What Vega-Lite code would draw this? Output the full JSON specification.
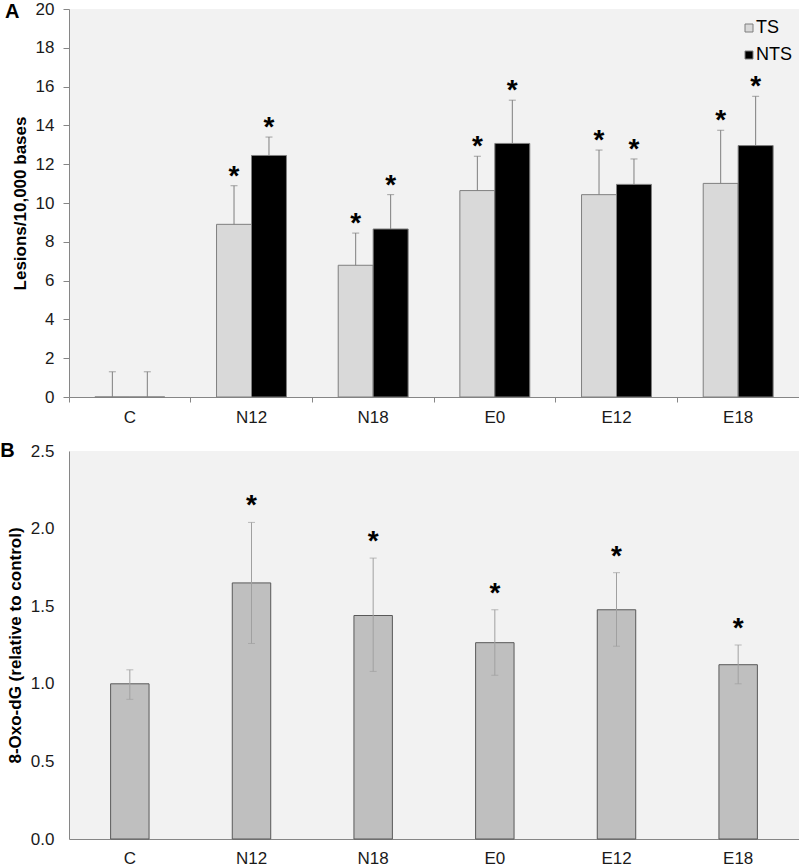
{
  "$schema": "https://vega.github.io/schema/vega-lite/v6.json",
  "background": "white",
  "padding": {"left": 0, "top": 0, "right": 0, "bottom": 0},
  "spacing": 16,
  "config": {
    "font": "Liberation Sans",
    "view": {"fill": "#f2f2f2", "stroke": null},
    "axis": {"domainColor": "#868686", "tickColor": "#868686", "labelColor": "#1a1a1a", "labelFontSize": 17, "titleColor": "#000000", "titleFontSize": 17, "titleFontWeight": "bold", "grid": false, "labelOverlap": false}
  },
  "datasets": {
    "lesions": [
      {"group": "C", "strand": "TS", "value": 0, "hi": 1.3, "sig": false},
      {"group": "C", "strand": "NTS", "value": 0, "hi": 1.3, "sig": false},
      {"group": "N12", "strand": "TS", "value": 8.9, "hi": 10.89, "sig": true},
      {"group": "N12", "strand": "NTS", "value": 12.45, "hi": 13.4, "sig": true},
      {"group": "N18", "strand": "TS", "value": 6.79, "hi": 8.45, "sig": true},
      {"group": "N18", "strand": "NTS", "value": 8.66, "hi": 10.43, "sig": true},
      {"group": "E0", "strand": "TS", "value": 10.64, "hi": 12.41, "sig": true},
      {"group": "E0", "strand": "NTS", "value": 13.07, "hi": 15.3, "sig": true},
      {"group": "E12", "strand": "TS", "value": 10.43, "hi": 12.73, "sig": true},
      {"group": "E12", "strand": "NTS", "value": 10.96, "hi": 12.27, "sig": true},
      {"group": "E18", "strand": "TS", "value": 11.01, "hi": 13.75, "sig": true},
      {"group": "E18", "strand": "NTS", "value": 12.96, "hi": 15.5, "sig": true}
    ],
    "oxo": [
      {"group": "C", "value": 1.0, "lo": 0.9, "hi": 1.09, "sig": false},
      {"group": "N12", "value": 1.65, "lo": 1.26, "hi": 2.04, "sig": true},
      {"group": "N18", "value": 1.44, "lo": 1.08, "hi": 1.81, "sig": true},
      {"group": "E0", "value": 1.265, "lo": 1.055, "hi": 1.477, "sig": true},
      {"group": "E12", "value": 1.477, "lo": 1.242, "hi": 1.716, "sig": true},
      {"group": "E18", "value": 1.123, "lo": 1.0, "hi": 1.25, "sig": true}
    ]
  },
  "vconcat": [
    {
      "width": 730,
      "height": 388,
      "title": {"text": "A", "anchor": "start", "frame": "bounds", "fontSize": 20, "fontWeight": "bold", "color": "#000000", "offset": -22, "dx": -6},
      "data": {"name": "lesions"},
      "encoding": {
        "x": {"field": "group", "type": "nominal", "sort": ["C", "N12", "N18", "E0", "E12", "E18"],
          "scale": {"paddingInner": 0, "paddingOuter": 0},
          "axis": {"title": null, "labelAngle": 0, "bandPosition": 0, "tickSize": 5, "labelPadding": 7, "labelFontSize": 17}},
        "xOffset": {"field": "strand", "type": "nominal", "sort": ["TS", "NTS"], "scale": {"paddingInner": 0, "paddingOuter": 0.74}},
        "y": {"field": "value", "type": "quantitative", "scale": {"domain": [0, 20], "nice": false},
          "axis": {"title": "Lesions/10,000 bases", "values": [0, 2, 4, 6, 8, 10, 12, 14, 16, 18, 20], "tickSize": 6, "labelPadding": 9, "titlePadding": 6, "labelFontSize": 17, "titleFontSize": 17, "labelOverlap": false}}
      },
      "layer": [
        {
          "mark": {"type": "bar", "stroke": "#7f7f7f", "strokeWidth": 1},
          "encoding": {
            "color": {"field": "strand", "type": "nominal", "sort": ["TS", "NTS"],
              "scale": {"domain": ["TS", "NTS"], "range": ["#d9d9d9", "#000000"]},
              "legend": {"orient": "none", "legendX": 671, "legendY": 10, "padding": 0, "title": null, "symbolType": "square", "symbolSize": 64, "symbolStrokeColor": "#7f7f7f", "symbolStrokeWidth": 1, "labelFontSize": 18, "labelColor": "#000000", "labelOffset": -2, "rowPadding": 9}}
          }
        },
        {
          "mark": {"type": "rule", "color": "#7f7f7f", "strokeWidth": 1},
          "encoding": {"y2": {"field": "hi"}}
        },
        {
          "mark": {"type": "tick", "color": "#7f7f7f", "thickness": 1, "size": 7},
          "encoding": {"y": {"field": "hi", "type": "quantitative"}}
        },
        {
          "transform": [{"filter": "datum.sig"}],
          "mark": {"type": "text", "text": "*", "fontSize": 28, "fontWeight": "bold", "baseline": "alphabetic", "dy": -1, "color": "#000000"},
          "encoding": {"y": {"field": "hi", "type": "quantitative"}}
        }
      ]
    },
    {
      "width": 730,
      "height": 388,
      "title": {"text": "B", "anchor": "start", "frame": "bounds", "fontSize": 20, "fontWeight": "bold", "color": "#000000", "offset": -19, "dx": -6},
      "data": {"name": "oxo"},
      "encoding": {
        "x": {"field": "group", "type": "nominal", "sort": ["C", "N12", "N18", "E0", "E12", "E18"],
          "scale": {"paddingInner": 0.684, "paddingOuter": 0.342},
          "axis": {"title": null, "labelAngle": 0, "ticks": false, "labelPadding": 11, "labelFontSize": 17}},
        "y": {"field": "value", "type": "quantitative", "scale": {"domain": [0, 2.5], "nice": false},
          "axis": {"title": "8-Oxo-dG (relative to control)", "values": [0, 0.5, 1, 1.5, 2, 2.5], "format": ".1f", "ticks": false, "labelPadding": 15, "titlePadding": 6, "labelFontSize": 17, "titleFontSize": 17, "labelOverlap": false}}
      },
      "layer": [
        {
          "mark": {"type": "bar", "color": "#bfbfbf", "stroke": "#595959", "strokeWidth": 1}
        },
        {
          "mark": {"type": "rule", "color": "#a0a0a0", "strokeWidth": 1},
          "encoding": {"y": {"field": "lo", "type": "quantitative"}, "y2": {"field": "hi"}}
        },
        {
          "mark": {"type": "tick", "color": "#a0a0a0", "thickness": 1, "size": 7},
          "encoding": {"y": {"field": "hi", "type": "quantitative"}}
        },
        {
          "mark": {"type": "tick", "color": "#a0a0a0", "thickness": 1, "size": 7},
          "encoding": {"y": {"field": "lo", "type": "quantitative"}}
        },
        {
          "transform": [{"filter": "datum.sig"}],
          "mark": {"type": "text", "text": "*", "fontSize": 28, "fontWeight": "bold", "baseline": "alphabetic", "dy": -8, "color": "#000000"},
          "encoding": {"y": {"field": "hi", "type": "quantitative"}}
        }
      ]
    }
  ]
}
